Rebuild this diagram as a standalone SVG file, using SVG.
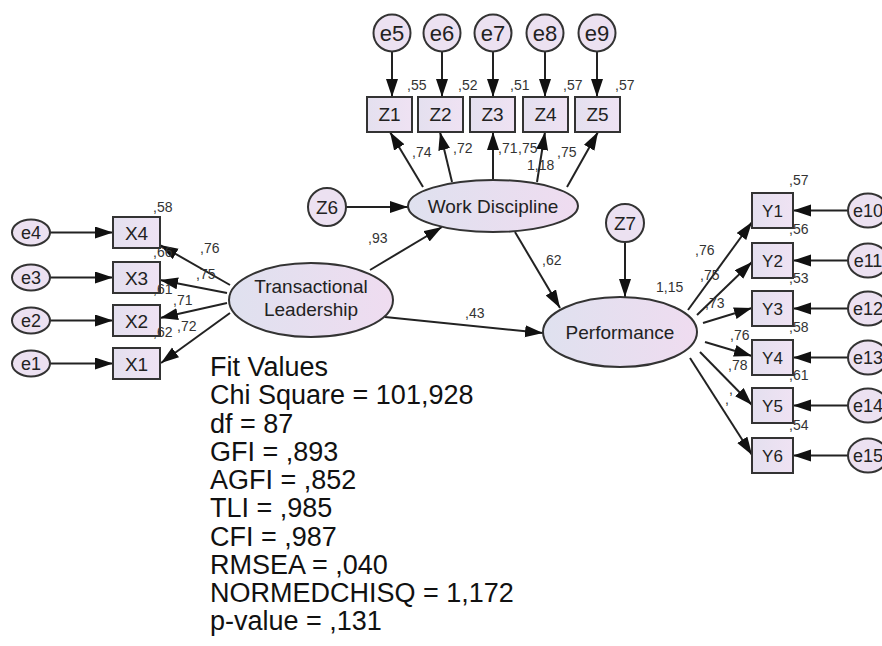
<svg xmlns="http://www.w3.org/2000/svg" width="882" height="646" viewBox="0 0 882 646">
<defs>
<linearGradient id="gEl" x1="0" y1="0" x2="1" y2="0">
<stop offset="0" stop-color="#dfe1ef"/><stop offset="1" stop-color="#efdcf0"/>
</linearGradient>
<linearGradient id="gBox" x1="0" y1="0" x2="1" y2="0">
<stop offset="0" stop-color="#e4e0ef"/><stop offset="1" stop-color="#efe2f3"/>
</linearGradient>
<marker id="ah" markerUnits="userSpaceOnUse" markerWidth="20" markerHeight="14" refX="18" refY="6" orient="auto">
<path d="M0,0 L18,6 L0,12 z" fill="#111"/>
</marker>
</defs>
<style>
.n{stroke:#333;stroke-width:2;fill:url(#gBox)}
.c{stroke:#333;stroke-width:2;fill:#ece1f1}
.el{stroke:#333;stroke-width:2;fill:url(#gEl)}
.t{font-family:"Liberation Sans",Arial,sans-serif;fill:#222;text-anchor:middle}
.lb{font-family:"Liberation Sans",Arial,sans-serif;fill:#333;font-size:14px}
.fv{font-family:"Liberation Sans",Arial,sans-serif;fill:#111;font-size:27px}
#conn line{stroke:#222;stroke-width:2;marker-end:url(#ah)}
</style>
<rect width="882" height="646" fill="#fff"/>

<g id="conn">
<line x1="392" y1="52" x2="392" y2="97"/>
<line x1="442" y1="52" x2="442" y2="97"/>
<line x1="493" y1="52" x2="493" y2="97"/>
<line x1="545" y1="52" x2="545" y2="97"/>
<line x1="597" y1="52" x2="597" y2="97"/>
<line x1="423" y1="187" x2="390" y2="132"/>
<line x1="452" y1="182" x2="440" y2="132"/>
<line x1="493" y1="180" x2="493" y2="132"/>
<line x1="537" y1="182" x2="545" y2="132"/>
<line x1="567" y1="187" x2="598" y2="132"/>
<line x1="346" y1="207" x2="408" y2="207"/>
<line x1="370" y1="270" x2="442" y2="227"/>
<line x1="385" y1="317" x2="543" y2="333"/>
<line x1="515" y1="232" x2="560" y2="308"/>
<line x1="625" y1="242" x2="625" y2="297"/>
<line x1="688" y1="310" x2="752" y2="222"/>
<line x1="697" y1="315" x2="752" y2="262"/>
<line x1="703" y1="323" x2="752" y2="308"/>
<line x1="705" y1="342" x2="752" y2="356"/>
<line x1="700" y1="352" x2="752" y2="405"/>
<line x1="690" y1="358" x2="752" y2="455"/>
<line x1="848" y1="210.5" x2="793" y2="210.5"/>
<line x1="848" y1="260.5" x2="793" y2="260.5"/>
<line x1="848" y1="308.5" x2="793" y2="308.5"/>
<line x1="848" y1="357.5" x2="793" y2="357.5"/>
<line x1="848" y1="405.5" x2="793" y2="405.5"/>
<line x1="848" y1="455.5" x2="793" y2="455.5"/>
<line x1="50" y1="232.5" x2="113" y2="232.5"/>
<line x1="50" y1="277.5" x2="113" y2="277.5"/>
<line x1="50" y1="320.5" x2="113" y2="320.5"/>
<line x1="50" y1="363.5" x2="113" y2="363.5"/>
<line x1="230" y1="285" x2="160" y2="245"/>
<line x1="227" y1="293" x2="160" y2="280"/>
<line x1="227" y1="303" x2="160" y2="318"/>
<line x1="230" y1="313" x2="161" y2="363"/>
</g>

<g id="e5"><circle class="c" cx="392" cy="33" r="18.5"/><text class="t" x="392" y="41" font-size="22">e5</text></g>
<g id="e6"><circle class="c" cx="442" cy="33" r="18.5"/><text class="t" x="442" y="41" font-size="22">e6</text></g>
<g id="e7"><circle class="c" cx="493" cy="33" r="18.5"/><text class="t" x="493" y="41" font-size="22">e7</text></g>
<g id="e8"><circle class="c" cx="545" cy="33" r="18.5"/><text class="t" x="545" y="41" font-size="22">e8</text></g>
<g id="e9"><circle class="c" cx="597" cy="33" r="18.5"/><text class="t" x="597" y="41" font-size="22">e9</text></g>

<g id="Z1"><rect class="n" x="367" y="97" width="45" height="35"/><text class="t" x="389.5" y="121" font-size="19">Z1</text></g>
<g id="Z2"><rect class="n" x="418" y="97" width="45" height="35"/><text class="t" x="440.5" y="121" font-size="19">Z2</text></g>
<g id="Z3"><rect class="n" x="470" y="97" width="45" height="35"/><text class="t" x="492.5" y="121" font-size="19">Z3</text></g>
<g id="Z4"><rect class="n" x="523" y="97" width="45" height="35"/><text class="t" x="545.5" y="121" font-size="19">Z4</text></g>
<g id="Z5"><rect class="n" x="575" y="97" width="45" height="35"/><text class="t" x="597.5" y="121" font-size="19">Z5</text></g>

<g id="WorkDiscipline"><ellipse class="el" cx="493" cy="206" rx="85" ry="26"/><text class="t" x="493" y="213" font-size="19">Work Discipline</text></g>
<g id="Z6"><circle class="c" cx="327" cy="207" r="19"/><text class="t" x="327" y="214" font-size="19">Z6</text></g>
<g id="TransactionalLeadership"><ellipse class="el" cx="311" cy="300" rx="82" ry="37"/><text class="t" x="311" y="293" font-size="19">Transactional</text><text class="t" x="311" y="316" font-size="19">Leadership</text></g>
<g id="Performance"><ellipse class="el" cx="620" cy="332" rx="77" ry="35"/><text class="t" x="620" y="339" font-size="19">Performance</text></g>
<g id="Z7"><circle class="c" cx="625" cy="223" r="19"/><text class="t" x="625" y="230" font-size="19">Z7</text></g>

<g id="Y1"><rect class="n" x="752" y="193" width="41" height="35"/><text class="t" x="772.5" y="216.5" font-size="17">Y1</text></g>
<g id="Y2"><rect class="n" x="752" y="243" width="41" height="35"/><text class="t" x="772.5" y="266.5" font-size="17">Y2</text></g>
<g id="Y3"><rect class="n" x="752" y="291" width="41" height="35"/><text class="t" x="772.5" y="314.5" font-size="17">Y3</text></g>
<g id="Y4"><rect class="n" x="752" y="340" width="41" height="35"/><text class="t" x="772.5" y="363.5" font-size="17">Y4</text></g>
<g id="Y5"><rect class="n" x="752" y="388" width="41" height="35"/><text class="t" x="772.5" y="411.5" font-size="17">Y5</text></g>
<g id="Y6"><rect class="n" x="752" y="438" width="41" height="35"/><text class="t" x="772.5" y="461.5" font-size="17">Y6</text></g>

<g id="e10"><ellipse class="c" cx="868" cy="210.5" rx="20" ry="17"/><text class="t" x="868" y="217" font-size="18">e10</text></g>
<g id="e11"><ellipse class="c" cx="868" cy="260.5" rx="20" ry="17"/><text class="t" x="868" y="267" font-size="18">e11</text></g>
<g id="e12"><ellipse class="c" cx="868" cy="308.5" rx="20" ry="17"/><text class="t" x="868" y="315" font-size="18">e12</text></g>
<g id="e13"><ellipse class="c" cx="868" cy="357.5" rx="20" ry="17"/><text class="t" x="868" y="364" font-size="18">e13</text></g>
<g id="e14"><ellipse class="c" cx="868" cy="405.5" rx="20" ry="17"/><text class="t" x="868" y="412" font-size="18">e14</text></g>
<g id="e15"><ellipse class="c" cx="868" cy="455.5" rx="20" ry="17"/><text class="t" x="868" y="462" font-size="18">e15</text></g>

<g id="X4"><rect class="n" x="113" y="217" width="47" height="31"/><text class="t" x="136.5" y="239.5" font-size="19">X4</text></g>
<g id="X3"><rect class="n" x="113" y="262" width="47" height="31"/><text class="t" x="136.5" y="284.5" font-size="19">X3</text></g>
<g id="X2"><rect class="n" x="113" y="305" width="47" height="31"/><text class="t" x="136.5" y="327.5" font-size="19">X2</text></g>
<g id="X1"><rect class="n" x="113" y="348" width="47" height="31"/><text class="t" x="136.5" y="370.5" font-size="19">X1</text></g>

<g id="e4"><ellipse class="c" cx="31" cy="232.5" rx="19" ry="13"/><text class="t" x="31" y="239" font-size="18">e4</text></g>
<g id="e3"><ellipse class="c" cx="31" cy="277.5" rx="19" ry="13"/><text class="t" x="31" y="284" font-size="18">e3</text></g>
<g id="e2"><ellipse class="c" cx="31" cy="320.5" rx="19" ry="13"/><text class="t" x="31" y="327" font-size="18">e2</text></g>
<g id="e1"><ellipse class="c" cx="31" cy="363.5" rx="19" ry="13"/><text class="t" x="31" y="370" font-size="18">e1</text></g>

<g id="labels">
<text class="lb" x="407" y="90">,55</text>
<text class="lb" x="458" y="90">,52</text>
<text class="lb" x="510" y="90">,51</text>
<text class="lb" x="563" y="90">,57</text>
<text class="lb" x="615" y="90">,57</text>
<text class="lb" x="412" y="157">,74</text>
<text class="lb" x="453" y="153">,72</text>
<text class="lb" x="498" y="153">,71</text>
<text class="lb" x="518" y="153">,75</text>
<text class="lb" x="527" y="170">1,18</text>
<text class="lb" x="557" y="157">,75</text>
<text class="lb" x="368" y="243">,93</text>
<text class="lb" x="542" y="265">,62</text>
<text class="lb" x="465" y="318">,43</text>
<text class="lb" x="656" y="292">1,15</text>
<text class="lb" x="695" y="255">,76</text>
<text class="lb" x="700" y="280">,75</text>
<text class="lb" x="705" y="308">,73</text>
<text class="lb" x="730" y="340">,76</text>
<text class="lb" x="728" y="370">,78</text>
<text class="lb" x="729" y="394">,</text>
<text class="lb" x="725" y="404">,</text>
<text class="lb" x="789" y="185">,57</text>
<text class="lb" x="789" y="234">,56</text>
<text class="lb" x="789" y="283">,53</text>
<text class="lb" x="789" y="332">,58</text>
<text class="lb" x="789" y="380">,61</text>
<text class="lb" x="789" y="430">,54</text>
<text class="lb" x="153" y="212">,58</text>
<text class="lb" x="153" y="257">,66</text>
<text class="lb" x="153" y="294">,61</text>
<text class="lb" x="153" y="337">,62</text>
<text class="lb" x="200" y="253">,76</text>
<text class="lb" x="196" y="279">,75</text>
<text class="lb" x="173" y="305">,71</text>
<text class="lb" x="177" y="331">,72</text>
</g>

<g id="fit">
<text class="fv" x="210" y="376">Fit Values</text>
<text class="fv" x="210" y="404">Chi Square = 101,928</text>
<text class="fv" x="210" y="432.5">df = 87</text>
<text class="fv" x="210" y="460.5">GFI = ,893</text>
<text class="fv" x="210" y="489">AGFI = ,852</text>
<text class="fv" x="210" y="517">TLI = ,985</text>
<text class="fv" x="210" y="545.5">CFI = ,987</text>
<text class="fv" x="210" y="574">RMSEA = ,040</text>
<text class="fv" x="210" y="602">NORMEDCHISQ = 1,172</text>
<text class="fv" x="210" y="630">p-value = ,131</text>
</g>
</svg>
